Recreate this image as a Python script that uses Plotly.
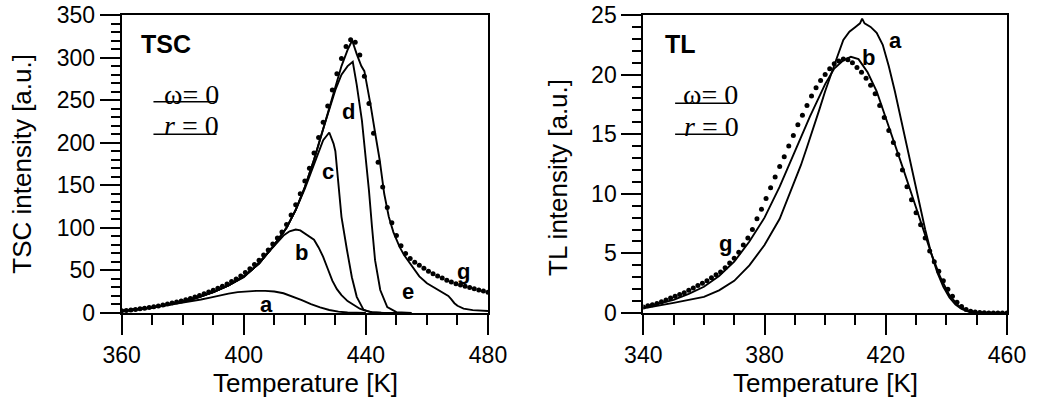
import plotly.graph_objects as go

# ---------------- TSC panel data ----------------
tsc_g_T = [360.0, 361.5, 363.0, 364.5, 366.0, 367.5, 369.0, 370.5, 372.0, 373.5, 375.0, 376.5, 378.0, 379.5,
           381.0, 382.5, 384.0, 385.5, 387.0, 388.5, 390.0, 391.5, 393.0, 394.5, 396.0, 397.5, 399.0, 400.5,
           402.0, 403.5, 405.0, 406.5, 408.0, 409.5, 411.0, 412.5, 414.0, 415.5, 417.0, 418.5, 420.0, 421.5,
           423.0, 424.5, 426.0, 427.5, 429.0, 430.5, 432.0, 433.5, 435.0, 436.5, 438.0, 439.5, 441.0, 442.5,
           444.0, 445.5, 447.0, 448.5, 450.0, 451.5, 453.0, 454.5, 456.0, 457.5, 459.0, 460.5, 462.0, 463.5,
           465.0, 466.5, 468.0, 469.5, 471.0, 472.5, 474.0, 475.5, 477.0, 478.5, 480.0]
tsc_g = [2.5, 3.0, 3.6, 4.2, 5.0, 5.7, 6.5, 7.3, 8.3, 9.4, 10.5, 11.6, 12.8, 14.1,
         15.5, 17.0, 18.8, 20.6, 22.6, 24.6, 26.6, 29.0, 31.5, 34.0, 37.0, 40.0, 43.5, 47.5,
         52.0, 57.0, 62.0, 68.0, 74.0, 81.0, 88.0, 95.0, 104.0, 115.0, 127.0, 140.0, 155.0, 170.0,
         188.0, 206.0, 224.0, 243.0, 262.0, 281.0, 299.0, 313.0, 321.0, 318.0, 303.0, 278.0, 246.0, 211.0,
         177.0, 148.0, 124.0, 106.0, 91.0, 79.0, 70.0, 64.0, 59.5, 56.0, 52.5, 49.0, 46.0, 43.5,
         41.0, 38.5, 36.5, 34.5, 33.0, 31.5, 30.0, 28.5, 27.0, 25.8, 24.5]

tsc_e_T = [360, 365, 370, 375, 380, 385, 390, 395, 400, 405, 410, 414, 417, 420, 423, 426, 429, 432, 434,
           435.5, 437, 438.5, 439.5, 440.5, 441.5, 443, 444.5, 446, 447.5, 449, 451, 452.5, 454.5, 457.5,
           460, 462, 464, 465.5, 467, 468, 469, 470, 472, 475, 480]
tsc_e = [2.3, 4.0, 6.5, 9.6, 13.5, 18.5, 24.5, 32.5, 43, 58, 80, 100, 121, 148, 180, 216, 253, 290, 309,
         320, 304, 290, 284, 265, 245, 212, 180, 140, 113, 95, 78, 68, 58, 43,
         35, 31, 27, 23, 20, 16, 11.5, 8.5, 5.2, 3.4, 2.4]

tsc_d_T = [360, 365, 370, 375, 380, 385, 390, 395, 400, 405, 410, 414, 417, 420, 423, 426, 428, 430, 432,
           434, 435.7, 437, 438.7, 440.3, 441, 442, 443, 444.7, 447, 450, 455]
tsc_d = [2.3, 4.0, 6.5, 9.6, 13.5, 18.5, 24.5, 32.5, 43, 58, 80, 100, 121, 148, 180, 216, 238, 262, 280,
         290, 295, 268, 226, 172, 144, 101, 62, 27, 7, 1, 0]

tsc_c_T = [360, 365, 370, 375, 380, 385, 390, 395, 400, 405, 410, 414, 417, 420, 422, 424, 426, 428,
           429.4, 430, 431, 432, 433.8, 435.4, 437, 439.2, 442, 446]
tsc_c = [2.3, 4.0, 6.5, 9.6, 13.5, 18.5, 24.5, 32.5, 43, 58, 80, 100, 121, 146, 165, 185, 203, 212,
         199, 190, 152, 113, 74, 42, 19, 4, 0.5, 0]

tsc_b_T = [360, 365, 370, 375, 380, 385, 390, 395, 400, 403, 406, 409, 411, 413, 415, 417, 418.5, 420,
           421.5, 423, 424.5, 426, 427.5, 429, 430.5, 432, 434, 436, 438, 440, 442, 445, 450]
tsc_b = [2.3, 4.0, 6.5, 9.6, 13.5, 18.5, 24.5, 32.5, 42, 52, 63, 75, 83, 91, 96, 98, 97, 93,
         90, 86, 77, 66, 52, 38, 28, 21, 14, 9, 5, 2.5, 1, 0.3, 0]

tsc_a_T = [360, 365, 370, 375, 380, 383, 386, 389, 392, 395, 398, 401, 404, 407, 410, 413, 416, 419,
           422, 425, 428, 431, 434, 437, 440]
tsc_a = [2.3, 4.0, 6.5, 9.3, 12.0, 13.8, 15.8, 18.0, 20.5, 22.8, 24.5, 25.5, 26.0, 26.0, 25.2, 23.2,
         19.5, 15.0, 10.5, 6.5, 3.5, 1.6, 0.6, 0.2, 0]

# ---------------- TL panel data ----------------
tl_g_T = [340.0, 341.5, 343.0, 344.5, 346.0, 347.5, 349.0, 350.5, 352.0, 353.5, 355.0, 356.5, 358.0, 359.5,
          361.0, 362.5, 364.0, 365.5, 367.0, 368.5, 370.0, 371.5, 373.0, 374.5, 376.0, 377.5, 379.0, 380.5,
          382.0, 383.5, 385.0, 386.5, 388.0, 389.5, 391.0, 392.5, 394.0, 395.5, 397.0, 398.5, 400.0, 401.5,
          403.0, 404.5, 406.0, 407.5, 409.0, 410.5, 412.0, 413.5, 415.0, 416.5, 418.0, 419.5, 421.0, 422.5,
          424.0, 425.5, 427.0, 428.5, 430.0, 431.5, 433.0, 434.5, 436.0, 437.5, 439.0, 440.5, 442.0, 443.5,
          445.0, 446.5, 448.0, 449.5, 451.0, 452.5, 454.0, 455.5, 457.0, 458.5, 460.0]
tl_g = [0.5, 0.6, 0.7, 0.8, 0.95, 1.1, 1.25, 1.4, 1.55, 1.7, 1.9, 2.1, 2.3, 2.5,
        2.7, 2.95, 3.2, 3.45, 3.8, 4.2, 4.6, 5.1, 5.7, 6.3, 7.0, 7.9, 8.7, 9.6,
        10.5, 11.4, 12.3, 13.1, 14.0, 14.9, 15.8, 16.6, 17.4, 18.2, 18.9, 19.5, 20.0, 20.5,
        20.9, 21.15, 21.3, 21.25, 21.0, 20.6, 20.2, 19.7, 19.1, 18.4, 17.4, 16.4, 15.3, 14.3,
        13.3, 12.0, 10.6, 9.5, 8.4, 7.4, 6.3, 5.2, 4.3, 3.5, 2.7, 2.0, 1.4, 0.9,
        0.55, 0.3, 0.15, 0.08, 0.04, 0.02, 0.01, 0.0, 0.0, 0.0, 0.0]

tl_b_T = [340, 345, 350, 355, 360, 365, 370, 375, 380, 385, 390, 395, 400, 403, 406, 408.5, 411, 414,
          417, 420, 423, 426, 429, 432, 435, 438, 441, 444, 447, 450, 455, 460]
tl_b = [0.45, 0.75, 1.1, 1.6, 2.2, 3.1, 4.3, 6.0, 8.0, 10.6, 13.5, 16.5, 19.2, 20.5, 21.2, 21.5, 21.3, 20.2,
        18.6, 16.4, 14.2, 11.9, 9.6, 7.2, 5.0, 3.0, 1.5, 0.6, 0.2, 0.05, 0, 0]

tl_a_T = [340, 345, 350, 355, 360, 365, 370, 375, 380, 385, 390, 392, 394, 396, 398, 400, 402, 404, 406,
          408, 410, 411.5, 412.2, 413, 415, 417, 419, 421, 423, 425, 427, 429, 431, 433, 435, 437, 439,
          441, 443, 445, 447, 450, 455, 460]
tl_a = [0.4, 0.6, 0.85, 1.1, 1.35, 1.9, 2.7, 4.0, 5.7, 7.9, 11.0, 12.4, 13.9, 15.4, 17.0, 18.6, 20.1, 21.5,
        22.9, 23.6, 24.0, 24.3, 24.7, 24.3, 24.0, 23.5, 22.5, 20.7, 18.6, 16.3, 14.0, 11.7, 9.3, 7.0, 5.0,
        3.4, 2.2, 1.3, 0.7, 0.35, 0.15, 0.05, 0, 0]

tsc_xticks = [360, 400, 440, 480]
tl_xticks = [340, 380, 420, 460]

LINE = dict(color="black", width=1.9)
DOT = dict(color="black", size=5)

fig = go.Figure()
for T, v in [(tsc_a_T, tsc_a), (tsc_b_T, tsc_b), (tsc_c_T, tsc_c), (tsc_d_T, tsc_d), (tsc_e_T, tsc_e)]:
    fig.add_trace(go.Scatter(x=T, y=v, mode="lines", line=LINE, xaxis="x", yaxis="y", showlegend=False))
fig.add_trace(go.Scatter(x=tsc_g_T, y=tsc_g, mode="markers", marker=DOT, xaxis="x", yaxis="y", showlegend=False))

for T, v in [(tl_a_T, tl_a), (tl_b_T, tl_b)]:
    fig.add_trace(go.Scatter(x=T, y=v, mode="lines", line=LINE, xaxis="x2", yaxis="y2", showlegend=False))
fig.add_trace(go.Scatter(x=tl_g_T, y=tl_g, mode="markers", marker=DOT, xaxis="x2", yaxis="y2", showlegend=False))

FONT = "Liberation Sans, Arial, sans-serif"
SERIF = "Liberation Serif, Times New Roman, serif"
tickfont = dict(family=FONT, size=23, color="black")

def xax(domain, rng, ticks, anchor):
    return dict(domain=domain, range=rng, tickvals=ticks, ticks="outside", ticklen=20, tickwidth=2,
                tickcolor="black", showline=True, linewidth=2, linecolor="black", mirror=True,
                showgrid=False, zeroline=False, tickfont=tickfont, anchor=anchor, automargin=False,
                ticklabeloverflow="allow",
                minor=dict(dtick=10, ticks="outside", ticklen=10, tickwidth=1.5, tickcolor="black", showgrid=False))

def yax(domain, rng, dtick, mdtick, anchor):
    return dict(domain=domain, range=rng, dtick=dtick, ticks="outside", ticklen=20, tickwidth=2,
                tickcolor="black", showline=True, linewidth=2, linecolor="black", mirror=True,
                showgrid=False, zeroline=False, tickfont=tickfont, anchor=anchor, automargin=False,
                ticklabeloverflow="allow",
                minor=dict(dtick=mdtick, ticks="outside", ticklen=9, tickwidth=1.5, tickcolor="black", showgrid=False))

# the page body margin is removed in the written page, so layout uses page pixels directly
W, H = 1037, 411
def px(x):
    return x / W
def py(y):
    return 1 - y / H

ydom = [py(313), py(15)]
fig.update_layout(
    width=W, height=H, margin=dict(l=0, r=0, t=0, b=0, pad=0, autoexpand=False),
    plot_bgcolor="white", paper_bgcolor="white", hovermode=False,
    xaxis=xax([px(121.7), px(488)], [360, 480], tsc_xticks, "y"),
    yaxis=yax(ydom, [0, 350], 50, 10, "x"),
    xaxis2=xax([px(643.3), px(1007)], [340, 460], tl_xticks, "y2"),
    yaxis2=yax(ydom, [0, 25], 5, 1, "x2"),
)

ann = []
def A(text, x, y, xref, yref, size, bold=False, family=FONT, angle=0):
    ann.append(dict(text=("<b>%s</b>" % text) if bold else text, x=x, y=y, xref=xref, yref=yref,
                    showarrow=False, font=dict(family=family, size=size, color="black"),
                    textangle=angle, xanchor="center", yanchor="middle"))

# axis titles
A("Temperature [K]", px(305), py(383), "paper", "paper", 26)
A("Temperature [K]", px(825), py(383), "paper", "paper", 26)
A("TSC intensity [a.u.]", px(21.7), py(164), "paper", "paper", 26, angle=-90)
A("TL intensity [a.u.]", px(558), py(178), "paper", "paper", 26, angle=-90)

# panel labels
A("TSC", 374.5, 315.6, "x", "y", 25, bold=True)
A("TL", 352.3, 22.58, "x2", "y2", 25, bold=True)
A("ω= 0", 383.0, 257, "x", "y", 28, family=SERIF)
A("<i>r</i> = 0", 383.0, 220.6, "x", "y", 28, family=SERIF)
A("ω= 0", 362.2, 18.3, "x2", "y2", 28, family=SERIF)
A("<i>r</i> = 0", 362.4, 15.66, "x2", "y2", 28, family=SERIF)

# curve labels
for t, x, y in [("a", 407.5, 10), ("b", 419, 71), ("c", 427.7, 166), ("d", 434.3, 237), ("e", 453.7, 25), ("g", 472, 49)]:
    A(t, x, y, "x", "y", 22, bold=True)
for t, x, y in [("a", 423.1, 22.9), ("b", 414.3, 21.4), ("g", 367, 5.8)]:
    A(t, x, y, "x2", "y2", 22, bold=True)

fig.update_layout(annotations=ann)

shapes = []
for (x0, x1, y, xr, yr) in [(370.4, 391.1, 248, "x", "y"), (370.4, 391.1, 210, "x", "y"),
                            (350.5, 368.6, 17.6, "x2", "y2"), (350.5, 368.6, 15.0, "x2", "y2")]:
    shapes.append(dict(type="line", x0=x0, x1=x1, y0=y, y1=y, xref=xr, yref=yr,
                       line=dict(color="black", width=1.5)))
fig.update_layout(shapes=shapes)

fig.write_html("out.html", config={"displayModeBar": False},
               post_script="document.body.style.margin='0px';document.body.style.overflow='hidden';")
